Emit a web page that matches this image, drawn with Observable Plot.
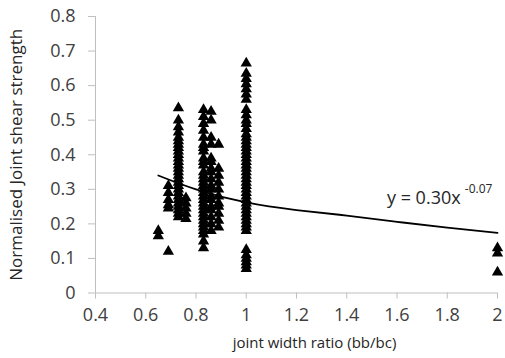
<!DOCTYPE html>
<html>
<head>
<meta charset="utf-8">
<script src="https://cdn.jsdelivr.net/npm/d3@7"></script>
<script src="https://cdn.jsdelivr.net/npm/@observablehq/plot@0.6"></script>
<style>
  html, body { margin: 0; padding: 0; background: #fff; }
  #chart { width: 505px; height: 358px; }
</style>
</head>
<body>
<div id="chart"></div>
<script>
// Joint width ratio groups (x) and normalised joint shear strength values (y)
const x065 = 0.65, y065 = [0.18, 0.165];
const x069 = 0.69, y069 = [0.31, 0.29, 0.27, 0.255, 0.245, 0.12];
const x073 = 0.73, y073 = [0.535, 0.50, 0.48, 0.465, 0.45, 0.44, 0.43, 0.42, 0.41, 0.40, 0.39, 0.38, 0.37, 0.36, 0.35, 0.34, 0.33, 0.32, 0.31, 0.30, 0.29, 0.28, 0.27, 0.26, 0.25, 0.24, 0.23, 0.22];
const x076 = 0.76, y076 = [0.275, 0.26, 0.245, 0.23, 0.215];
const x083 = 0.83, y083 = [0.53, 0.51, 0.49, 0.47, 0.45, 0.43, 0.42, 0.41, 0.39, 0.38, 0.37, 0.35, 0.34, 0.33, 0.32, 0.31, 0.30, 0.29, 0.28, 0.27, 0.26, 0.25, 0.24, 0.23, 0.22, 0.21, 0.20, 0.19, 0.18, 0.17, 0.15, 0.13];
const x086 = 0.86, y086 = [0.525, 0.50, 0.45, 0.43, 0.39, 0.38, 0.36, 0.35, 0.33, 0.31, 0.30, 0.28, 0.27, 0.25, 0.24, 0.22, 0.20, 0.18];
const x089 = 0.89, y089 = [0.43, 0.36, 0.34, 0.32, 0.30, 0.28, 0.26, 0.25, 0.23, 0.21, 0.19];
const x100 = 1.0, y100 = [0.665, 0.635, 0.62, 0.605, 0.59, 0.575, 0.56, 0.53, 0.515, 0.50, 0.49, 0.475, 0.46, 0.45, 0.44, 0.43, 0.42, 0.41, 0.40, 0.39, 0.38, 0.37, 0.36, 0.35, 0.34, 0.33, 0.32, 0.31, 0.30, 0.29, 0.28, 0.27, 0.26, 0.25, 0.24, 0.23, 0.22, 0.21, 0.20, 0.19, 0.18, 0.125, 0.11, 0.10, 0.09, 0.08, 0.07];
const x200 = 2.0, y200 = [0.13, 0.115, 0.06];

// Trend line (power fit)
const trendX = [0.65, 0.8, 1.0, 1.2, 1.4, 1.6, 1.8, 2.0];
const trendY = [0.34, 0.30, 0.262, 0.24, 0.224, 0.206, 0.189, 0.174];

// Tick values and labels
const xTicks = [0.4, 0.6, 0.8, 1.0, 1.2, 1.4, 1.6, 1.8, 2.0];
const yTicks = [0, 0.1, 0.2, 0.3, 0.4, 0.5, 0.6, 0.7, 0.8];
const xTitle = "joint width ratio (bb/bc)";
const yTitle = "Normalised Joint shear strength";
const eqMain = "y = 0.30x";
const eqExp = "-0.07";

const groups = [[x065, y065], [x069, y069], [x073, y073], [x076, y076], [x083, y083],
                [x086, y086], [x089, y089], [x100, y100], [x200, y200]];
const points = groups.flatMap(([x, ys]) => ys.map(y => ({x, y})));
const trend = trendX.map((x, i) => ({x, y: trendY[i]}));
const fmt = d => String(+d.toFixed(1));

const axisGray = "#bfbfbf";
const textGray = "#404040";

const chart = Plot.plot({
  width: 505,
  height: 358,
  marginLeft: 95,
  marginRight: 8,
  marginTop: 16,
  marginBottom: 65.5,
  style: {fontFamily: "'Open Sans', sans-serif", fontSize: "18px", background: "#fff"},
  x: {domain: [0.4, 2], axis: null},
  y: {domain: [0, 0.8], axis: null},
  marks: [
    Plot.ruleX([0.4], {stroke: axisGray, strokeWidth: 1}),
    Plot.ruleY([0], {stroke: axisGray, strokeWidth: 1}),
    Plot.axisY({ticks: yTicks, tickFormat: fmt, tickSize: 7, tickPadding: 13, stroke: axisGray, fill: textGray, label: null, fontSize: 18}),
    Plot.axisY({ticks: [], tickSize: 0, label: yTitle, labelAnchor: "center", labelOffset: 86, labelArrow: "none", fontSize: 17, fill: "#262626"}),
    Plot.axisX({ticks: xTicks, tickFormat: fmt, tickSize: 6, tickPadding: 9, stroke: axisGray, fill: textGray, label: null, fontSize: 18}),
    Plot.dot(points, {x: "x", y: "y", symbol: "triangle", r: 4.2, fill: "#000", stroke: "none"}),
    Plot.line(trend, {x: "x", y: "y", curve: "natural", stroke: "#000", strokeWidth: 1.8}),
    Plot.text([eqMain], {x: 1.56, y: 0.274, text: d => d, textAnchor: "start", fontSize: 18, fill: "#262626"}),
    Plot.text([eqExp], {x: 1.87, y: 0.3, text: d => d, textAnchor: "start", fontSize: 12, fill: "#262626"}),
    Plot.text([xTitle], {frameAnchor: "bottom", text: d => d, dx: 18, dy: 55, fontSize: 15, fill: "#262626"})
  ]
});
document.getElementById("chart").appendChild(chart);
</script>
</body>
</html>
